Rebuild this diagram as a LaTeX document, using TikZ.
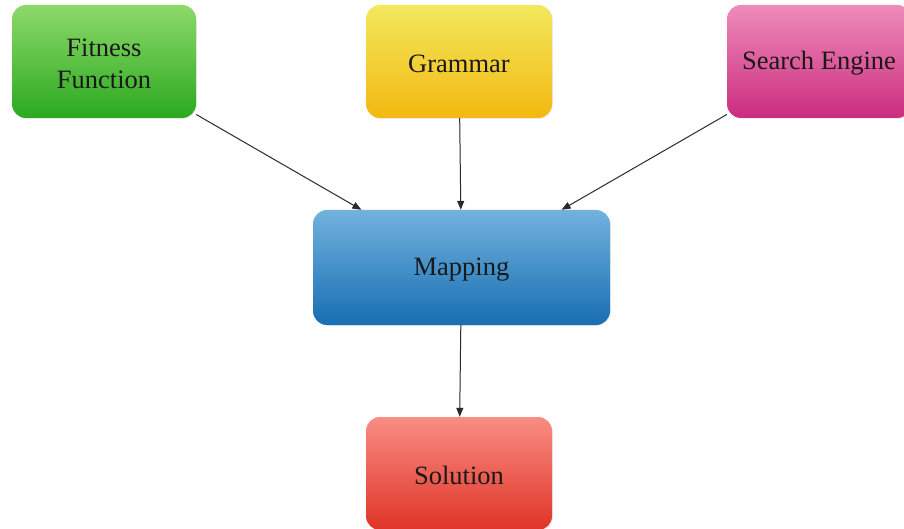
\documentclass[tikz,border=0pt]{standalone}
\usepackage{fontspec}
\setmainfont{Liberation Serif}
\usetikzlibrary{arrows.meta,shadows}

\definecolor{greenTop}{HTML}{8DD96A}
\definecolor{greenBot}{HTML}{2BA91F}
\definecolor{yellowTop}{HTML}{F3E85E}
\definecolor{yellowBot}{HTML}{F3B810}
\definecolor{pinkTop}{HTML}{EE8CBA}
\definecolor{pinkBot}{HTML}{CB2C7F}
\definecolor{blueTop}{HTML}{72B2DE}
\definecolor{blueBot}{HTML}{176EB3}
\definecolor{redTop}{HTML}{F98D84}
\definecolor{redBot}{HTML}{DF3426}
\definecolor{linkgray}{HTML}{2A2A2A}

\tikzset{
  block/.style={rectangle, rounded corners=14pt, draw=none,
    minimum width=184pt, minimum height=113pt,
    drop shadow={opacity=0.15, shadow xshift=0.8pt, shadow yshift=-0.8pt}},
  caption/.style={align=center, yshift=-2pt,
    font=\fontsize{26.5}{32}\selectfont, text=black!90},
  link/.style={draw=linkgray, line width=1pt,
    -{Triangle[length=9pt,width=7pt]}},
}

\begin{document}
\begin{tikzpicture}[x=1pt, y=-1pt]
  \useasboundingbox (0,0) rectangle (904,529);
  \clip (0,0) rectangle (904,529);
  \fill[white] (0,0) rectangle (904,529);

  % boxes
  \node[block, top color=greenTop, bottom color=greenBot] (fit) at (104,61.5) {};
  \node[block, top color=yellowTop, bottom color=yellowBot, minimum width=186pt] (gram) at (459,61.5) {};
  \node[block, top color=pinkTop, bottom color=pinkBot] (search) at (819,61.5) {};
  \node[block, top color=blueTop, bottom color=blueBot, minimum width=297pt, minimum height=115pt] (map) at (461.5,267.5) {};
  \node[block, top color=redTop, bottom color=redBot, minimum width=186pt] (sol) at (459,473.5) {};

  % box texts
  \node[caption] (fitT) at (fit) {Fitness\\Function};
  \node[caption] (gramT) at (gram) {Grammar};
  \node[caption] (searchT) at (search) {Search Engine};
  \node[caption] (mapT) at (map) {Mapping};
  \node[caption] (solT) at (sol) {Solution};

  % connectors
  \draw[link] (fit) -- (map);
  \draw[link] (gram) -- (map);
  \draw[link] (search) -- (map);
  \draw[link] (map) -- (sol);
\end{tikzpicture}
\end{document}
